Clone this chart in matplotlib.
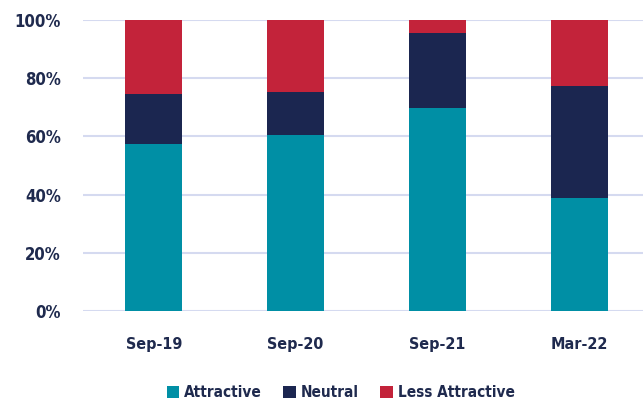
import matplotlib
matplotlib.use("Agg")
from matplotlib import pyplot as plt
import numpy as np

# data (percent of respondents)
periods = ['Sep-19', 'Sep-20', 'Sep-21', 'Mar-22']
attractive = [57.3, 60.5, 69.7, 38.8]
neutral = [17.3, 14.9, 25.8, 38.7]
less_attractive = [25.4, 24.6, 4.5, 22.5]

plt.rcParams['font.family'] = ['DejaVu Sans']
plt.rcParams['font.stretch'] = 'condensed'
text_color = '#1f2a4e'

fig = plt.figure(figsize=(6.43, 4.01), dpi=100)
ax = fig.add_axes([0.129, 0.2244, 0.871, 0.7256])

x = np.arange(len(periods))
w = 0.4
bottom2 = np.array(attractive) + np.array(neutral)
ax.bar(x, attractive, w, color='#008fa5', label='Attractive', zorder=3)
ax.bar(x, neutral, w, bottom=attractive, color='#1b2650', label='Neutral', zorder=3)
ax.bar(x, less_attractive, w, bottom=bottom2, color='#c3233a', label='Less Attractive', zorder=3)

ax.set_xlim(-0.5, 3.45)
ax.set_ylim(0, 100)
ax.set_yticks([0, 20, 40, 60, 80, 100])
ax.set_yticklabels(['0%', '20%', '40%', '60%', '80%', '100%'])
ax.set_xticks(x)
ax.set_xticklabels(periods)
ax.grid(axis='y', color='#d5daf0', linewidth=1.5, zorder=0)
for s in ax.spines.values():
    s.set_visible(False)
ax.tick_params(axis='both', length=0, labelcolor=text_color)
ax.tick_params(axis='y', pad=16, labelsize=12)
ax.tick_params(axis='x', pad=19, labelsize=11.5)
for lab in ax.get_xticklabels() + ax.get_yticklabels():
    lab.set_fontweight('semibold')

leg = fig.legend(loc='center', bbox_to_anchor=(0.53, 0.02), ncol=3, frameon=False,
                 handlelength=0.8, handleheight=0.8, handletextpad=0.35,
                 columnspacing=1.4, prop={'weight': 'semibold', 'size': 11})
for t in leg.get_texts():
    t.set_color(text_color)

fig.savefig('out.png', dpi=100)
